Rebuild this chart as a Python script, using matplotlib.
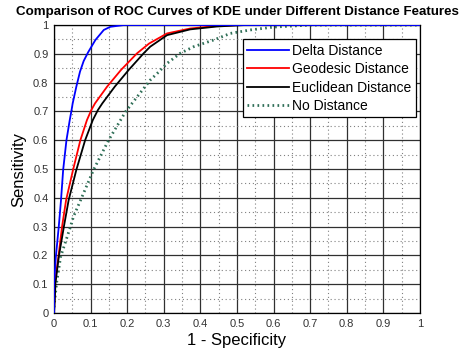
"""
ROC curves of KDE with different distance features.
"""

import matplotlib
matplotlib.use("Agg")
import matplotlib.pyplot as plt
import numpy as np

# false positive rate (1 - specificity) / true positive rate per feature set
delta_fpr = [0.0, 0.0, 0.005, 0.013, 0.019, 0.025, 0.034, 0.043, 0.048, 0.051, 0.061, 0.071,
             0.081, 0.093, 0.113, 0.136, 0.154, 0.19, 0.3, 1.0]
delta_tpr = [0.0, 0.10, 0.195, 0.30, 0.39, 0.497, 0.60, 0.67, 0.705, 0.728, 0.786, 0.838,
             0.875, 0.905, 0.948, 0.983, 0.994, 1.0, 1.0, 1.0]

geodesic_fpr = [0.0, 0.002, 0.012, 0.022, 0.033, 0.052, 0.072, 0.09, 0.102, 0.112, 0.145,
                0.183, 0.227, 0.26, 0.309, 0.372, 0.445, 0.5, 1.0]
geodesic_tpr = [0.0, 0.10, 0.195, 0.30, 0.392, 0.497, 0.60, 0.67, 0.705, 0.728, 0.786,
                0.844, 0.902, 0.936, 0.971, 0.988, 0.997, 1.0, 1.0]

euclid_fpr = [0.0, 0.002, 0.004, 0.013, 0.027, 0.040, 0.061, 0.085, 0.106, 0.12, 0.132,
              0.166, 0.204, 0.245, 0.263, 0.309, 0.372, 0.445, 0.52, 1.0]
euclid_tpr = [0.0, 0.045, 0.104, 0.195, 0.30, 0.392, 0.497, 0.60, 0.67, 0.705, 0.728,
              0.786, 0.844, 0.902, 0.925, 0.965, 0.985, 0.995, 1.0, 1.0]

nodist_fpr = [0.0, 0.007, 0.018, 0.045, 0.053, 0.072, 0.108, 0.149, 0.196, 0.263, 0.282,
              0.309, 0.345, 0.382, 0.436, 0.482, 0.536, 0.6, 0.7, 1.0]
nodist_tpr = [0.02, 0.104, 0.195, 0.30, 0.334, 0.39, 0.497, 0.60, 0.70, 0.809, 0.832,
              0.867, 0.902, 0.925, 0.948, 0.971, 0.983, 0.993, 1.0, 1.0]

ticks = np.round(np.arange(0, 1.01, 0.1), 1)
tick_labels = ["0", "0.1", "0.2", "0.3", "0.4", "0.5", "0.6", "0.7", "0.8", "0.9", "1"]

plt.rcParams["font.family"] = ["Liberation Sans", "DejaVu Sans"]

fig = plt.figure(figsize=(4.64, 3.53), dpi=100)
fig.patch.set_facecolor("white")
ax = fig.add_axes([0.1164, 0.1133, 0.7886, 0.8157])

ax.plot(delta_fpr, delta_tpr, color="#0000ff", lw=1.3, label="Delta Distance", zorder=4)
ax.plot(geodesic_fpr, geodesic_tpr, color="#ff0000", lw=1.3, label="Geodesic Distance", zorder=3)
ax.plot(euclid_fpr, euclid_tpr, color="#000000", lw=1.3, label="Euclidean Distance", zorder=3)
ax.plot(nodist_fpr, nodist_tpr, color="#2f6f57", lw=2.0, ls=(0, (0.6, 1.2)),
        label="No Distance", zorder=2)

ax.set_xlim(0, 1)
ax.set_ylim(0, 1)
ax.set_xticks(ticks)
ax.set_yticks(ticks)
ax.set_xticklabels(tick_labels)
ax.set_yticklabels(tick_labels)
ax.set_xticks(np.arange(0.05, 1.0, 0.1), minor=True)
ax.set_yticks(np.arange(0.05, 1.0, 0.1), minor=True)
ax.tick_params(axis="both", which="both", length=0, labelsize=8, colors="#333333", pad=4)

ax.grid(True, which="major", color="#303030", lw=0.9, ls="-", zorder=0)
ax.grid(True, which="minor", color="#808080", lw=0.8, ls=(0, (1, 2.5)), zorder=0)
ax.set_axisbelow(True)
for spine in ax.spines.values():
    spine.set_color("black")
    spine.set_linewidth(0.9)

ax.set_title("Comparison of ROC Curves of KDE under Different Distance Features",
             fontsize=9.6, fontweight="bold", pad=7)
ax.set_xlabel("1 - Specificity", fontsize=12, labelpad=3)
ax.set_ylabel("Sensitivity", fontsize=12, labelpad=5)

leg = ax.legend(loc="upper right", bbox_to_anchor=(0.988, 0.95), fontsize=10,
                frameon=True, fancybox=False, handlelength=3.0, handletextpad=0.25,
                labelspacing=0.32, borderpad=0.3, borderaxespad=0)
leg.get_frame().set_edgecolor("black")
leg.get_frame().set_linewidth(0.9)
leg.get_frame().set_alpha(1)

fig.savefig("out.png", dpi=100, facecolor="white")
plt.close(fig)
